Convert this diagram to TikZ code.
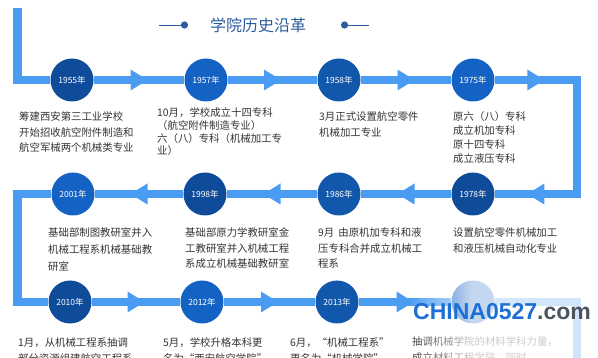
\documentclass[tikz,border=0pt]{standalone}
\usepackage{fontspec}
\setmainfont{Noto Sans CJK SC}
\newfontfamily\wmfont{Liberation Sans}
\usetikzlibrary{decorations.markings,fadings,calc}

\definecolor{lineblue}{HTML}{4A9CF2}
\definecolor{cdark}{HTML}{0E4B98}
\definecolor{cmid}{HTML}{1157AC}
\definecolor{cbright}{HTML}{1463C4}
\definecolor{titleblue}{HTML}{2B5C9E}
\definecolor{txtgray}{HTML}{333333}
\definecolor{wmblue}{HTML}{1C6FD4}
\definecolor{wmgray}{HTML}{4A5560}

\tikzfading[name=fadein, left color=transparent!100, right color=transparent!25]

\tikzset{
  tline/.style={draw=lineblue,line width=8.5pt},
  arrowmark/.style={decorate,decoration={markings,
    mark=at position 0.5 with {\fill[lineblue] (-8.5,-10.5) -- (8.5,0) -- (-8.5,10.5) -- cycle;}}},
  yearnode/.style={circle,minimum size=43pt,inner sep=0pt,text=white,
    font=\fontsize{8.5}{10}\selectfont},
  % base = baseline of the last line
  desc/.style={anchor=base west,inner sep=0pt,align=left,text=txtgray,
    font=\fontsize{10.4}{15.3}\selectfont},
}

\begin{document}
\begin{tikzpicture}[x=1pt,y=-1pt]
  \useasboundingbox (0,0) rectangle (598,358);
  \clip (0,0) rectangle (598,358);

  % title
  \node[font=\fontsize{16}{18}\selectfont,text=titleblue] (title) at (258,25) {学院历史沿革};
  \fill[titleblue] ($(title.west)+(-22,0)$) circle (3.6) ($(title.east)+(35,0)$) circle (3.6);
  \draw[titleblue,line width=0.8pt] ($(title.west)+(-47,0)$) -- ($(title.west)+(-22,0)$)
    ($(title.east)+(35,0)$) -- ($(title.east)+(59,0)$);

  % years
  \node[yearnode,fill=cdark]   (c1955) at (72,80)   {1955年};
  \node[yearnode,fill=cbright] (c1957) at (206,80)  {1957年};
  \node[yearnode,fill=cmid]    (c1958) at (339,80)  {1958年};
  \node[yearnode,fill=cbright] (c1975) at (473,80)  {1975年};
  \node[yearnode,fill=cbright] (c2001) at (73,194)  {2001年};
  \node[yearnode,fill=cdark]   (c1998) at (205,194) {1998年};
  \node[yearnode,fill=cmid]    (c1986) at (339,194) {1986年};
  \node[yearnode,fill=cdark]   (c1978) at (473,194) {1978年};
  \node[yearnode,fill=cdark]   (c2010) at (70,302)  {2010年};
  \node[yearnode,fill=cbright] (c2012) at (202,302) {2012年};
  \node[yearnode,fill=cmid]    (c2013) at (337,302) {2013年};
  \node[yearnode,fill=cbright] (c2014) at (473,302) {};

  % corners of the line
  \coordinate (s)  at (17.5,8);
  \coordinate (k1) at (17.5,80);
  \coordinate (k2) at (577,80);
  \coordinate (k3) at (577,194);
  \coordinate (k4) at (17.5,194);
  \coordinate (k5) at (17.5,302);
  \coordinate (k6) at (577,302);
  \coordinate (k7) at (577,370);

  \draw[tline] (s) -- (k1) -- (c1955) -- (c1957) -- (c1958) -- (c1975) -- (k2) -- (k3)
    -- (c1978) -- (c1986) -- (c1998) -- (c2001) -- (k4) -- (k5) -- (c2010) -- (c2012)
    -- (c2013) -- (c2014) -- (k6) -- (k7);
  \foreach \a/\b in {c1955/c1957,c1957/c1958,c1958/c1975,c1975/k2,k3/c1978,
      c1978/c1986,c1986/c1998,c1998/c2001,c2010/c2012,c2012/c2013,c2013/c2014}
    \path[arrowmark] (\a) -- (\b);

  % texts
  \node[desc] (t1955) at (19,151.6) {筹建西安第三工业学校\\开始招收航空附件制造和\\航空军械两个机械类专业};
  \node[desc,font=\fontsize{10.4}{12.8}\selectfont] (t1957) at (157,154.9)
    {10月，学校成立十四专科\\（航空附件制造专业）\\六（八）专科（机械加工专\\业）};
  \node[desc] (t1958) at (319,136.3) {3月正式设置航空零件\\机械加工专业};
  \node[desc,font=\fontsize{10.4}{14}\selectfont] (t1975) at (453,163)
    {原六（八）专科\\成立机加专科\\原十四专科\\成立液压专科};
  \node[desc,font=\fontsize{10.4}{17}\selectfont] (t2001) at (48,271)
    {基础部制图教研室并入\\机械工程系机械基础教\\研室};
  \node[desc] (t1998) at (185,267.6) {基础部原力学教研室金\\工教研室并入机械工程\\系成立机械基础教研室};
  \node[desc] (t1986) at (318,267.6) {9月\hspace{4pt}由原机加专科和液\\压专科合并成立机械工\\程系};
  \node[desc] (t1978) at (453,252.3) {设置航空零件机械加工\\和液压机械自动化专业};
  \node[desc,font=\fontsize{10.4}{16}\selectfont] (t2010) at (18,363) {1月，从机械工程系抽调\\部分资源组建航空工程系};
  \node[desc,font=\fontsize{10.4}{16}\selectfont] (t2012) at (163,363) {5月，学校升格本科更\\名为“西安航空学院”};
  \node[desc,font=\fontsize{10.4}{16}\selectfont] (t2013) at (290,363) {6月，“机械工程系”\\更名为“机械学院”};
  \node[desc,font=\fontsize{10.4}{16}\selectfont] (t2014) at (412,362) {抽调机械学院的材料学科力量，\\成立材料工程学院，同时，};

  % fade and watermark
  \fill[white,path fading=fadein] (408,280) rectangle (472,358);
  \fill[white,opacity=0.75] (472,280) rectangle (598,358);
  \node[anchor=base west,inner sep=0pt,font=\wmfont\bfseries\fontsize{23}{26}\selectfont] (wm)
    at (413,320) {\textcolor{wmblue}{CHINA0527}\textcolor{wmgray}{.com}};
\end{tikzpicture}
\end{document}
